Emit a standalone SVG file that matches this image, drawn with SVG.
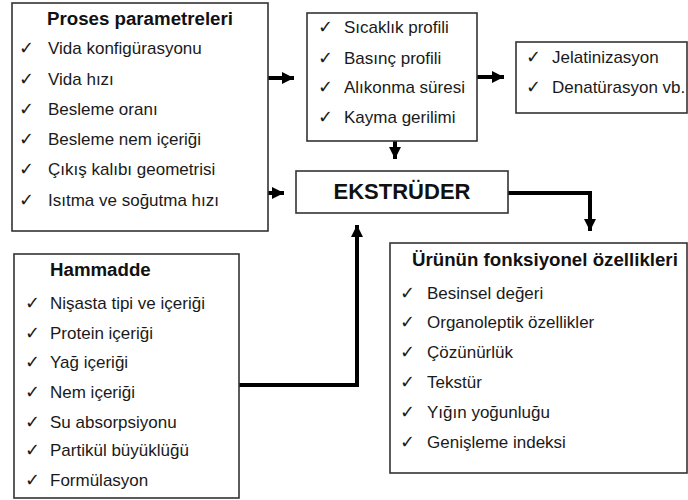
<svg xmlns="http://www.w3.org/2000/svg" width="688" height="500" viewBox="0 0 688 500">
<style>
.box{fill:#fff;stroke:#333;stroke-width:1.6}
.t{font-family:"Liberation Sans",Arial,sans-serif;font-size:17px;fill:#1a1a1a}
.h{font-family:"Liberation Sans",Arial,sans-serif;font-size:18.7px;font-weight:bold;fill:#111}
.ck{font-family:"DejaVu Sans",sans-serif;font-size:18px;fill:#1a1a1a}
.c{fill:none;stroke:#000;stroke-width:4}
</style>
<defs>
<marker id="ah" markerUnits="userSpaceOnUse" markerWidth="14" markerHeight="14" refX="12" refY="7" orient="auto">
<path d="M0,1 L12,7 L0,13 Z" fill="#000"/>
</marker>
</defs>
<rect width="688" height="500" fill="#fff"/>
<g id="connectors">
<path class="c" d="M264,78 H294" marker-end="url(#ah)"/>
<path class="c" d="M262,193 H284" marker-end="url(#ah)"/>
<path class="c" d="M477,77 H504" marker-end="url(#ah)"/>
<path class="c" d="M395,141 V159" marker-end="url(#ah)"/>
<path class="c" d="M508,193 H590 V231" marker-end="url(#ah)"/>
<path class="c" d="M235,385 H357 V225" marker-end="url(#ah)"/>
</g>
<g id="proses">
<rect class="box" x="12" y="3" width="256" height="228"/>
<text class="h" x="140" y="25" text-anchor="middle">Proses parametreleri</text>
<text class="ck" x="19" y="54">✓</text><text class="t" x="48" y="54">Vida konfigürasyonu</text>
<text class="ck" x="19" y="85">✓</text><text class="t" x="48" y="85">Vida hızı</text>
<text class="ck" x="19" y="115">✓</text><text class="t" x="48" y="115">Besleme oranı</text>
<text class="ck" x="19" y="145">✓</text><text class="t" x="48" y="145">Besleme nem içeriği</text>
<text class="ck" x="19" y="175">✓</text><text class="t" x="48" y="175">Çıkış kalıbı geometrisi</text>
<text class="ck" x="19" y="206">✓</text><text class="t" x="48" y="206">Isıtma ve soğutma hızı</text>
</g>
<g id="profil">
<rect class="box" x="307" y="13" width="170" height="128"/>
<text class="ck" x="318" y="33">✓</text><text class="t" x="344" y="33">Sıcaklık profili</text>
<text class="ck" x="318" y="64">✓</text><text class="t" x="344" y="64">Basınç profili</text>
<text class="ck" x="318" y="93">✓</text><text class="t" x="344" y="93">Alıkonma süresi</text>
<text class="ck" x="318" y="123">✓</text><text class="t" x="344" y="123">Kayma gerilimi</text>
</g>
<g id="jelatinizasyon">
<rect class="box" x="516" y="42" width="171" height="71"/>
<text class="ck" x="526" y="63">✓</text><text class="t" x="552" y="63">Jelatinizasyon</text>
<text class="ck" x="526" y="93">✓</text><text class="t" x="552" y="93">Denatürasyon vb.</text>
</g>
<g id="ekstruder">
<rect class="box" x="296" y="171" width="212" height="42"/>
<text class="h" x="402" y="199" text-anchor="middle" style="font-size:22px">EKSTRÜDER</text>
</g>
<g id="hammadde">
<rect class="box" x="14" y="254" width="225" height="244"/>
<text class="h" x="50" y="276">Hammadde</text>
<text class="ck" x="25" y="309">✓</text><text class="t" x="50" y="309">Nişasta tipi ve içeriği</text>
<text class="ck" x="25" y="339">✓</text><text class="t" x="50" y="339">Protein içeriği</text>
<text class="ck" x="25" y="368">✓</text><text class="t" x="50" y="368">Yağ içeriği</text>
<text class="ck" x="25" y="398">✓</text><text class="t" x="50" y="398">Nem içeriği</text>
<text class="ck" x="25" y="428">✓</text><text class="t" x="50" y="428">Su absorpsiyonu</text>
<text class="ck" x="25" y="456">✓</text><text class="t" x="50" y="456">Partikül büyüklüğü</text>
<text class="ck" x="25" y="486">✓</text><text class="t" x="50" y="486">Formülasyon</text>
</g>
<g id="urun">
<rect class="box" x="390" y="243" width="297" height="230"/>
<text class="h" x="412" y="266">Ürünün fonksiyonel özellikleri</text>
<text class="ck" x="400" y="299">✓</text><text class="t" x="427" y="299">Besinsel değeri</text>
<text class="ck" x="400" y="328">✓</text><text class="t" x="427" y="328">Organoleptik özellikler</text>
<text class="ck" x="400" y="358">✓</text><text class="t" x="427" y="358">Çözünürlük</text>
<text class="ck" x="400" y="388">✓</text><text class="t" x="427" y="388">Tekstür</text>
<text class="ck" x="400" y="418">✓</text><text class="t" x="427" y="418">Yığın yoğunluğu</text>
<text class="ck" x="400" y="448">✓</text><text class="t" x="427" y="448">Genişleme indeksi</text>
</g>
</svg>
